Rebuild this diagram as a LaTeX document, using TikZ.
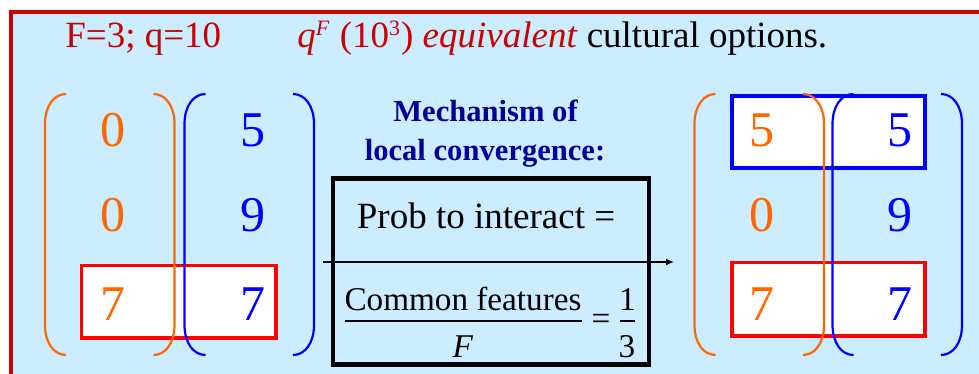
\documentclass[tikz,border=0pt]{standalone}
\usepackage{fontspec}
\setmainfont{Liberation Serif}
\usetikzlibrary{arrows.meta}

\definecolor{bgblue}{RGB}{204,236,255}
\definecolor{framered}{RGB}{204,0,0}
\definecolor{featorange}{RGB}{255,102,0}
\definecolor{featblue}{RGB}{0,0,255}
\definecolor{boxred}{RGB}{255,0,0}
\definecolor{mechblue}{RGB}{0,0,153}

\tikzset{
  parline/.style={line width=1.1pt},
  digit/.style={inner sep=0pt, anchor=base, font=\fontsize{25}{30}\selectfont},
  headtext/.style={inner sep=0pt, anchor=base west, font=\fontsize{18.5}{22}\selectfont},
  mechtext/.style={inner sep=0pt, anchor=base, text=mechblue, font=\bfseries\fontsize{15.3}{19}\selectfont},
  boxtext/.style={inner sep=0pt, anchor=base, font=\fontsize{18.5}{22}\selectfont},
  fractext/.style={inner sep=0pt, anchor=base, font=\fontsize{16.6}{20}\selectfont},
  featbox/.style={fill=white, line width=1.7pt}
}

\begin{document}
\begin{tikzpicture}[x=0.5pt,y=-0.5pt]
  \useasboundingbox (0,0) rectangle (979,374);
  \clip (0,0) rectangle (979,374);
  \draw[framered, line width=2pt, fill=bgblue] (10.5,12) rectangle (995,395);

  % title line
  \node[headtext, text=framered] (params) at (65,48) {F=3; q=10};
  \node[headtext] (options) at (297,48)
    {\textcolor{framered}{\textit{q}\textsuperscript{\fontsize{11}{12}\selectfont\textit{F}} (10\textsuperscript{\fontsize{11}{12}\selectfont 3}) \textit{equivalent}} cultural options.};

  % shared features
  \draw[featbox, draw=boxred] (81.5,265.5) rectangle (276,338);
  \draw[featbox, draw=featblue, line width=2pt] (732,96.5) rectangle (925,168);
  \draw[featbox, draw=boxred] (732,262.5) rectangle (925,336);

  % brackets
  \foreach \xo/\col in {45/featorange, 184.5/featblue, 694.5/featorange, 832.5/featblue}
    \draw[\col, parline] (\xo+21,94) .. controls (\xo+9,94) and (\xo,106) .. (\xo,124)
      -- (\xo,325) .. controls (\xo,343) and (\xo+9,355) .. (\xo+21,355);
  \foreach \xo/\col in {174.5/featorange, 314/featblue, 824/featorange, 962/featblue}
    \draw[\col, parline] (\xo-21,94) .. controls (\xo-9,94) and (\xo,106) .. (\xo,124)
      -- (\xo,325) .. controls (\xo,343) and (\xo-9,355) .. (\xo-21,355);

  % agent A (before)
  \node[digit, text=featorange] (a1) at (112.5,147) {0};
  \node[digit, text=featorange] (a2) at (112.5,231) {0};
  \node[digit, text=featorange] (a3) at (112.5,320) {7};
  \node[digit, text=featblue] (b1) at (252.5,147) {5};
  \node[digit, text=featblue] (b2) at (252.5,231) {9};
  \node[digit, text=featblue] (b3) at (252.5,320) {7};

  % agent A (after)
  \node[digit, text=featorange] (c1) at (762,147) {5};
  \node[digit, text=featorange] (c2) at (762,231) {0};
  \node[digit, text=featorange] (c3) at (762,320) {7};
  \node[digit, text=featblue] (d1) at (900,147) {5};
  \node[digit, text=featblue] (d2) at (900,231) {9};
  \node[digit, text=featblue] (d3) at (900,320) {7};

  % mechanism
  \node[mechtext] (mech1) at (485.5,121.5) {Mechanism of};
  \node[mechtext] (mech2) at (485,160) {local convergence:};
  \draw[line width=2.2pt] (333,178.5) rectangle (649,364.5);
  \node[boxtext] (prob) at (486,228) {Prob to interact =};
  \node[fractext] (common) at (463,310) {Common features};
  \node[fractext] (nfeat) at (463,357) {\textit{F}};
  \draw[line width=0.6pt] (345,321) -- (582,321);
  \node[fractext, anchor=center] (eqsign) at (601,322) {=};
  \node[fractext] (one) at (627.5,310) {1};
  \node[fractext] (three) at (627,357) {3};
  \draw[line width=0.6pt] (620,321) -- (635,321);

  \coordinate (arrL) at (323,262);
  \coordinate (arrR) at (674,262);
  \draw[line width=0.8pt, -{Latex[length=4pt,width=3.5pt]}] (arrL) -- (arrR);
\end{tikzpicture}
\end{document}
